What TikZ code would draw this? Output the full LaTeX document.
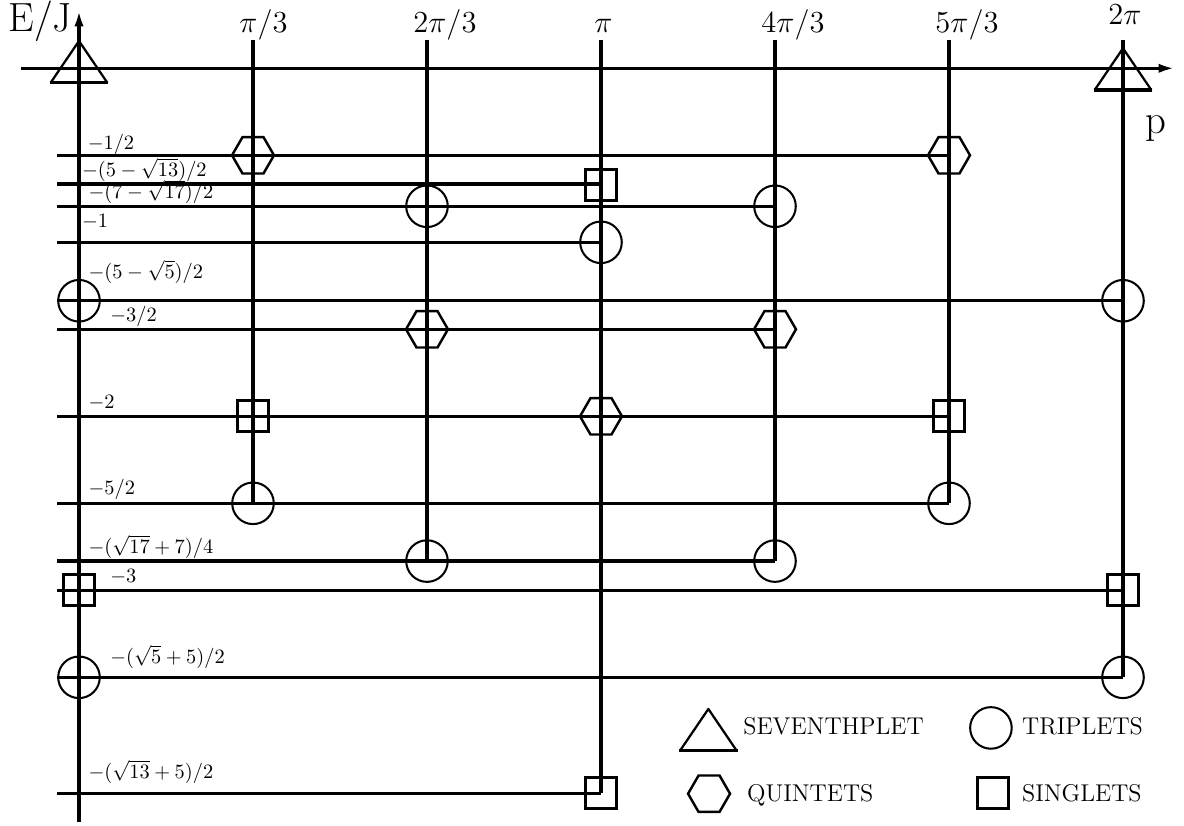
\RequirePackage{fix-cm}
\documentclass[tikz,border=0pt]{standalone}
\usetikzlibrary{shapes.geometric,arrows.meta}
\tikzset{
  lvl/.style={line width=1.6pt},
  trip/.style={circle,draw,line width=1pt,minimum size=20.4pt,inner sep=0pt},
  quint/.style={regular polygon,regular polygon sides=6,draw,line width=1.2pt,minimum size=20.6pt,inner sep=0pt},
  sing/.style={rectangle,draw,line width=1.5pt,minimum size=15.3pt,inner sep=0pt},
  sept/.pic={\draw[line width=1.1pt,line join=round] (-0.163,0) -- (0,0.24) -- (0.163,0);
             \draw[line width=1.7pt] (-0.168,0) -- (0.168,0);},
  elab/.style={anchor=base west,inner sep=0pt,font=\fontsize{10}{12}\selectfont},
  plab/.style={anchor=base west,inner sep=0pt,font=\fontsize{15}{18}\selectfont},
  leg/.style={anchor=base west,inner sep=0pt,font=\fontsize{11.9}{14}\selectfont},
  axlab/.style={anchor=base west,inner sep=0pt,font=\fontsize{20}{24}\selectfont},
  tip/.style={-{Latex[length=8pt,width=4.5pt]}}
}
\begin{document}
\begin{tikzpicture}[x=3cm,y=3cm]
\useasboundingbox (-0.454,-4.3546) rectangle (6.3506,0.3925);
% left ends of the levels
\coordinate (a) at (-0.126,-0.5);
\coordinate (b) at (-0.126,-0.665);
\coordinate (c) at (-0.126,-0.793);
\coordinate (d) at (-0.126,-1);
\coordinate (e) at (-0.126,-1.336);
\coordinate (f) at (-0.126,-1.5);
\coordinate (g) at (-0.126,-2);
\coordinate (h) at (-0.126,-2.5);
\coordinate (i) at (-0.126,-2.832);
\coordinate (j) at (-0.126,-3);
\coordinate (k) at (-0.126,-3.5);
\coordinate (l) at (-0.126,-4.167);
\foreach \n in {1,...,6} \coordinate (top\n) at (\n,0.163);
\coordinate (ebot) at (0,-4.33);
\coordinate (etop) at (0,0.335);
\coordinate (pleft) at (-0.333,0);
\coordinate (pright) at (6.299,0);

% states
\pic at (0,-0.083) {sept};
\node[trip] (e0) at (0,-1.336) {};
\node[sing] (j0) at (0,-3) {};
\node[trip] (k0) at (0,-3.5) {};
\node[quint] (a1) at (1,-0.5) {};
\node[sing] (g1) at (1,-2) {};
\node[trip] (h1) at (1,-2.5) {};
\node[trip] (c2) at (2,-0.793) {};
\node[quint] (f2) at (2,-1.5) {};
\node[trip] (i2) at (2,-2.832) {};
\node[sing] (b3) at (3,-0.672) {};
\node[trip] (d3) at (3,-1) {};
\node[quint] (g3) at (3,-2) {};
\node[sing] (l3) at (3,-4.167) {};
\node[trip] (c4) at (4,-0.793) {};
\node[quint] (f4) at (4,-1.5) {};
\node[trip] (i4) at (4,-2.832) {};
\node[quint] (a5) at (5,-0.5) {};
\node[sing] (g5) at (5,-2) {};
\node[trip] (h5) at (5,-2.5) {};
\pic at (6,-0.125) {sept};
\node[trip] (e6) at (6,-1.336) {};
\node[sing] (j6) at (6,-3) {};
\node[trip] (k6) at (6,-3.5) {};

% lines
\draw[lvl,tip] (ebot) -- (etop);
\draw[lvl,tip] (pleft) -- (pright);
\foreach \s/\t in {a/a5,b/b3,c/c4,d/d3,e/e6,f/f4,g/g5,h/h5,i/i4,j/j6,k/k6,l/l3}
  \draw[lvl] (\s) -- (\t.center|-\s);
\foreach \n/\t in {1/h1,2/i2,3/l3,4/i4,5/h5,6/k6}
  \draw[lvl] (top\n) -- (\t.center);

% labels
\node[axlab] (ej) at (-0.408,0.21) {E/J};
\node[axlab] (pp) at (6.126,-0.374) {p};
\node[plab] (p1) at (0.92,0.203) {$\pi/3$};
\node[plab] (p2) at (1.92,0.203) {$2\pi/3$};
\node[plab] (p3) at (2.96,0.203) {$\pi$};
\node[plab] (p4) at (3.92,0.203) {$4\pi/3$};
\node[plab] (p5) at (4.92,0.203) {$5\pi/3$};
\node[plab] (p6) at (5.914,0.249) {$2\pi$};
\node[elab] (la) at (0.048,-0.4655) {$-1/2$};
\node[elab] (lb) at (0.0155,-0.623) {$-(5-\sqrt{13})/2$};
\node[elab] (lc) at (0.053,-0.747) {$-(7-\sqrt{17})/2$};
\node[elab] (ld) at (0.0155,-0.916) {$-1$};
\node[elab] (le) at (0.053,-1.207) {$-(5-\sqrt{5})/2$};
\node[elab] (lf) at (0.178,-1.456) {$-3/2$};
\node[elab] (lg) at (0.053,-1.954) {$-2$};
\node[elab] (lh) at (0.053,-2.452) {$-5/2$};
\node[elab] (li) at (0.053,-2.787) {$-(\sqrt{17}+7)/4$};
\node[elab] (lj) at (0.178,-2.956) {$-3$};
\node[elab] (lk) at (0.178,-3.420) {$-(\sqrt{5}+5)/2$};
\node[elab] (ll) at (0.053,-4.080) {$-(\sqrt{13}+5)/2$};

% legend
\pic at (3.617,-3.922) {sept};
\node[leg] (tsept) at (3.816,-3.831) {SEVENTHPLET};
\node[trip] (ltrip) at (5.241,-3.791) {};
\node[leg] (ttrip) at (5.418,-3.831) {TRIPLETS};
\node[quint] (lquint) at (3.621,-4.169) {};
\node[leg] (tquint) at (3.837,-4.215) {QUINTETS};
\node[sing] (lsing) at (5.253,-4.165) {};
\node[leg] (tsing) at (5.418,-4.215) {SINGLETS};
\end{tikzpicture}
\end{document}
